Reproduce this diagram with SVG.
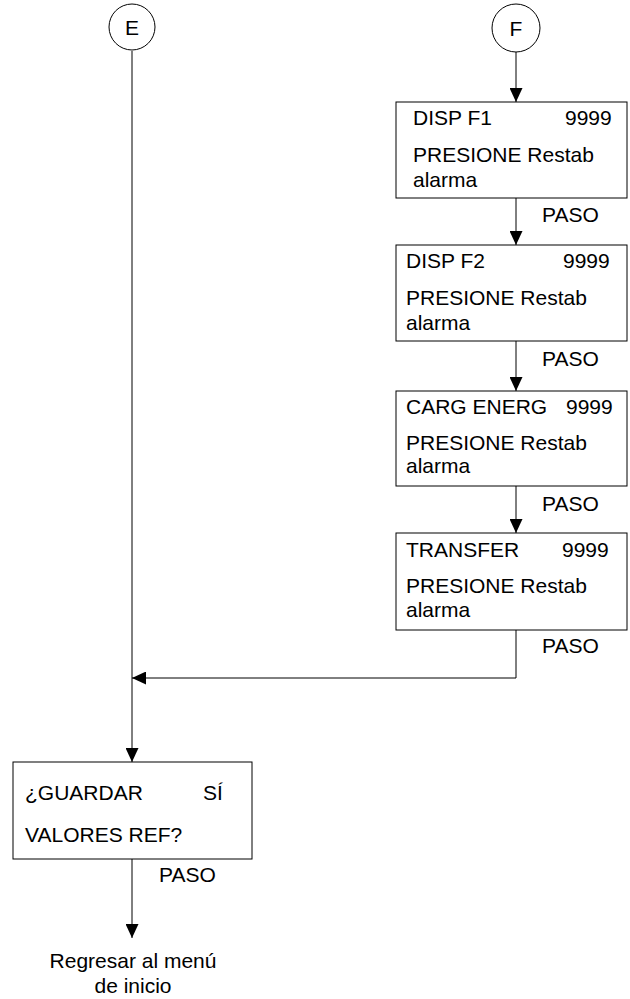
<svg xmlns="http://www.w3.org/2000/svg" width="630" height="999" viewBox="0 0 630 999">
<style>
text{font-family:"Liberation Sans",Arial,sans-serif;font-size:21px;fill:#000}
.b{fill:#fff;stroke:#000;stroke-width:1}
.c{fill:#fff;stroke:#000;stroke-width:1}
.l{fill:none;stroke:#000;stroke-width:1}
.m{text-anchor:middle}
</style>
<defs>
<marker id="ah" markerWidth="14" markerHeight="13" refX="14" refY="6.5" orient="auto" markerUnits="userSpaceOnUse">
<path d="M0,0 L14,6.5 L0,13 Z" fill="#000"/>
</marker>
</defs>
<rect width="630" height="999" fill="#fff"/>
<g id="connectors">
<line class="l" x1="132" y1="51" x2="132" y2="762" marker-end="url(#ah)"/>
<line class="l" x1="516" y1="52" x2="516" y2="102" marker-end="url(#ah)"/>
<line class="l" x1="516" y1="198" x2="516" y2="245" marker-end="url(#ah)"/>
<line class="l" x1="516" y1="341" x2="516" y2="391" marker-end="url(#ah)"/>
<line class="l" x1="516" y1="486" x2="516" y2="533" marker-end="url(#ah)"/>
<polyline class="l" points="516,630 516,678 132,678" marker-end="url(#ah)"/>
<line class="l" x1="132" y1="859" x2="132" y2="938" marker-end="url(#ah)"/>
<text x="542" y="222">PASO</text>
<text x="542" y="366">PASO</text>
<text x="542" y="511">PASO</text>
<text x="542" y="653">PASO</text>
<text x="159" y="882">PASO</text>
</g>
<g id="E">
<circle class="c" cx="132" cy="27" r="23"/>
<text class="m" x="132" y="35">E</text>
</g>
<g id="F">
<circle class="c" cx="516" cy="28" r="24"/>
<text class="m" x="516" y="36">F</text>
</g>
<g id="disp_f1">
<rect class="b" x="396" y="102" width="231" height="96"/>
<text x="413" y="125">DISP F1</text>
<text x="565" y="125">9999</text>
<text x="413" y="162">PRESIONE Restab</text>
<text x="413" y="187">alarma</text>
</g>
<g id="disp_f2">
<rect class="b" x="396" y="245" width="231" height="96"/>
<text x="406" y="268">DISP F2</text>
<text x="563" y="268">9999</text>
<text x="406" y="305">PRESIONE Restab</text>
<text x="406" y="330">alarma</text>
</g>
<g id="carg_energ">
<rect class="b" x="396" y="391" width="231" height="95"/>
<text x="406" y="414">CARG ENERG</text>
<text x="566" y="414">9999</text>
<text x="406" y="450">PRESIONE Restab</text>
<text x="406" y="473">alarma</text>
</g>
<g id="transfer">
<rect class="b" x="396" y="533" width="231" height="97"/>
<text x="406" y="557">TRANSFER</text>
<text x="562" y="557">9999</text>
<text x="406" y="593">PRESIONE Restab</text>
<text x="406" y="617">alarma</text>
</g>
<g id="guardar">
<rect class="b" x="13" y="762" width="239" height="97"/>
<text x="25" y="800">¿GUARDAR</text>
<text x="203" y="800">SÍ</text>
<text x="25" y="842">VALORES REF?</text>
</g>
<g id="regresar">
<text class="m" x="133" y="968">Regresar al menú</text>
<text class="m" x="133" y="993">de inicio</text>
</g>
</svg>
